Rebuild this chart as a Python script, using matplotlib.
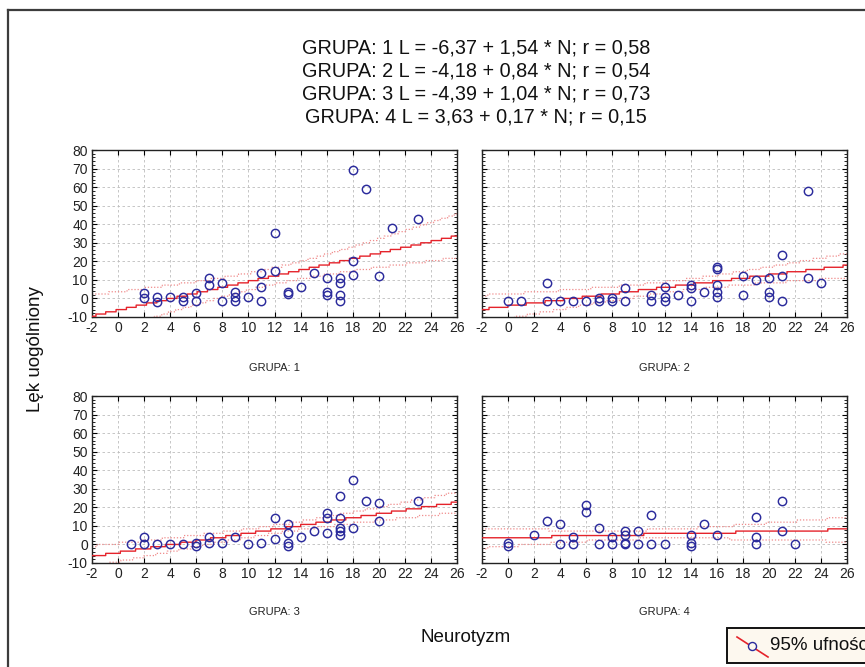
import numpy as np
import matplotlib
matplotlib.use("Agg")
import matplotlib.pyplot as plt
from matplotlib.lines import Line2D
from matplotlib.patches import Rectangle
from matplotlib.ticker import MultipleLocator

plt.rcParams["font.family"] = ["Liberation Sans", "DejaVu Sans"]
plt.rcParams["axes.unicode_minus"] = False

# Neurotyzm (N) vs Lęk uogólniony (L), one list pair per group
g1_n = [2, 2, 3, 3, 4, 5, 5, 6, 6, 7, 7, 8, 8, 9, 9, 9, 10, 11, 11, 11, 12, 12, 13, 13,
        14, 15, 16, 16, 16, 17, 17, 17, 17, 18, 18, 18, 19, 20, 21, 23]
g1_l = [3, 0, 1, -2, 1, 1, -1.5, 3, -1.5, 11, 7, 8.5, -1.5, 3.5, 1, -1.5, 1, 13.5, 6, -1.5,
        35, 15, 3.5, 2.5, 6, 13.5, 11, 3.5, 2, 11, 8.5, 2, -1.5, 69, 20, 12.5, 59, 12, 38, 43]

g2_n = [0, 1, 3, 3, 4, 5, 6, 7, 7, 8, 8, 9, 9, 11, 11, 12, 12, 12, 13, 14, 14, 14, 15, 16,
        16, 16, 16, 16, 18, 18, 19, 20, 20, 20, 21, 21, 21, 23, 23, 24]
g2_l = [-1.5, -1.5, 8.5, -1.5, -1.5, -1.5, -1.5, 0, -1.5, 0, -1.5, 5.5, -1.5, 2, -1.5, 6, 1,
        -1.5, 2, 7.5, 5.5, -1.5, 3.5, 17, 16, 7, 3.5, 1, 12, 2, 10, 11, 3.5, 1, 23.5, 12, -1.5,
        58, 11, 8.5]

g3_n = [1, 2, 2, 3, 4, 5, 6, 6, 7, 7, 8, 9, 10, 11, 12, 12, 13, 13, 13, 13, 14, 15, 16, 16,
        16, 17, 17, 17, 17, 17, 18, 18, 19, 20, 20, 23]
g3_l = [0, 4, 0, 0, 0, 0, 1, -1, 4, 1, 1, 4, 0, 1, 14, 3, 11, 6, 1, -1, 4, 7.5, 17, 14, 6,
        26, 14, 9, 7.5, 5, 34.5, 9, 23.5, 22.5, 12.5, 23.5]

g4_n = [0, 0, 2, 3, 4, 4, 5, 5, 6, 6, 7, 7, 8, 8, 9, 9, 9, 9, 10, 10, 11, 11, 12, 14, 14, 14,
        15, 16, 19, 19, 19, 21, 21, 22]
g4_l = [1, -1, 5, 12.5, 11, 0, 4, 0, 21, 17.5, 9, 0, 4, 0, 7.5, 5, 1, 0, 7.5, 0, 16, 0, 0, 5,
        1, -1, 11, 5, 15, 4, 0.5, 23.5, 7.5, 0]

# regression coefficients (intercept, slope) and r for each group
intercepts = [-6.37, -4.18, -4.39, 3.63]
slopes = [1.54, 0.84, 1.04, 0.17]
r_vals = [0.58, 0.54, 0.73, 0.15]
group_names = ["GRUPA: 1", "GRUPA: 2", "GRUPA: 3", "GRUPA: 4"]

xs_all = [g1_n, g2_n, g3_n, g4_n]
ys_all = [g1_l, g2_l, g3_l, g4_l]

pt_kwargs = {"marker": "o", "ls": "none", "ms": 6.0, "mfc": "none", "mec": "#2b2b9c", "mew": 1.05}
fit_kwargs = {"color": "#e5232b", "lw": 1.0}
band_kwargs = {"color": "#f08c8c", "lw": 0.9, "ls": (0, (1, 1.5))}
grid_kwargs = {"color": "#bdbdbd", "lw": 0.6, "ls": (0, (3, 3))}
fmt = lambda v: f"{v:.2f}".replace(".", ",")

W, H = 865, 667
fig = plt.figure(figsize=(W / 100, H / 100), dpi=100)

# outer frame (left and top edges only fall inside the canvas)
fig.add_artist(Line2D([8 / W, 8 / W], [0, 1 - 10 / H], color="#3c3c3c", lw=1.6))
fig.add_artist(Line2D([8 / W, 1], [1 - 10 / H, 1 - 10 / H], color="#3c3c3c", lw=1.6))

# title with the fitted equations
lines = [f"GRUPA: {i + 1} L = {fmt(a)} + {fmt(b)} * N; r = {fmt(r)}"
         for i, (a, b, r) in enumerate(zip(intercepts, slopes, r_vals))]
for i, txt in enumerate(lines):
    fig.text(476 / W, 1 - (48 + 23 * i) / H, txt, ha="center", va="center",
             fontsize=14.3, color="#111111")

ax_w = 365 / W
ax_h = 167 / H
lefts = [92 / W, 482 / W, 92 / W, 482 / W]
bottoms = [1 - 317 / H, 1 - 317 / H, 1 - 563 / H, 1 - 563 / H]
label_y = [1 - 368 / H, 1 - 368 / H, 1 - 612 / H, 1 - 612 / H]

xgrid = np.linspace(-2, 26, 600)
t_crit = 2.02

for i in range(4):
    ax = fig.add_axes([lefts[i], bottoms[i], ax_w, ax_h])
    x = np.array(xs_all[i], dtype=float)
    y = np.array(ys_all[i], dtype=float)
    a, b = intercepts[i], slopes[i]

    # confidence band of the fitted line from the residual spread
    n = len(x)
    resid = y - (a + b * x)
    s = np.sqrt(np.sum(resid ** 2) / (n - 2))
    sxx = np.sum((x - x.mean()) ** 2)
    half = t_crit * s * np.sqrt(1 / n + (xgrid - x.mean()) ** 2 / sxx)
    fit = a + b * xgrid
    q = 1.2
    ax.plot(xgrid, np.round(fit / q) * q, drawstyle="steps-mid", zorder=3, **fit_kwargs)
    ax.plot(xgrid, np.round((fit + half) / q) * q, drawstyle="steps-mid", zorder=2, **band_kwargs)
    ax.plot(xgrid, np.round((fit - half) / q) * q, drawstyle="steps-mid", zorder=2, **band_kwargs)

    ax.plot(x, y, zorder=4, clip_on=False, **pt_kwargs)

    ax.set_xlim(-2, 26)
    ax.set_ylim(-10, 80)
    ax.xaxis.set_major_locator(MultipleLocator(2))
    ax.yaxis.set_major_locator(MultipleLocator(10))
    ax.yaxis.set_minor_locator(MultipleLocator(2))
    ax.grid(True, **grid_kwargs)
    ax.set_axisbelow(True)
    ax.tick_params(which="both", direction="in", top=True, right=True,
                   labelsize=10, labelcolor="#222222", pad=3)
    ax.tick_params(which="major", length=3.5, width=0.8)
    ax.tick_params(which="minor", length=2, width=0.6)
    if i % 2 == 1:
        ax.tick_params(labelleft=False)
    for sp in ax.spines.values():
        sp.set_linewidth(1.0)
        sp.set_color("#222222")

    fig.text(lefts[i] + ax_w / 2, label_y[i], group_names[i], ha="center", va="center",
             fontsize=8, color="#222222")

fig.text(35 / W, 1 - 349 / H, "Lęk uogólniony", rotation=90, ha="center", va="center",
         fontsize=13.5, color="#111111")
fig.text(466 / W, 1 - 637 / H, "Neurotyzm", ha="center", va="center",
         fontsize=13.5, color="#111111")

# legend box, running past the right edge of the canvas
fig.add_artist(Rectangle((727 / W, 1 - 663 / H), 200 / W, 35 / H, transform=fig.transFigure,
                         facecolor="#fdf8ef", edgecolor="#111111", lw=1.4))
fig.add_artist(Line2D([737 / W, 768 / W], [1 - 637 / H, 1 - 657 / H], color="#e5232b", lw=1.2))
fig.add_artist(Line2D([752 / W], [1 - 646 / H], marker="o", ms=5.8, mfc="#fdf8ef",
                      mec="#2b2b9c", mew=1.0))
fig.text(770 / W, 1 - 645 / H, "95% ufności", ha="left", va="center", fontsize=13.5,
         color="#111111")

fig.savefig("out.png", dpi=100)
